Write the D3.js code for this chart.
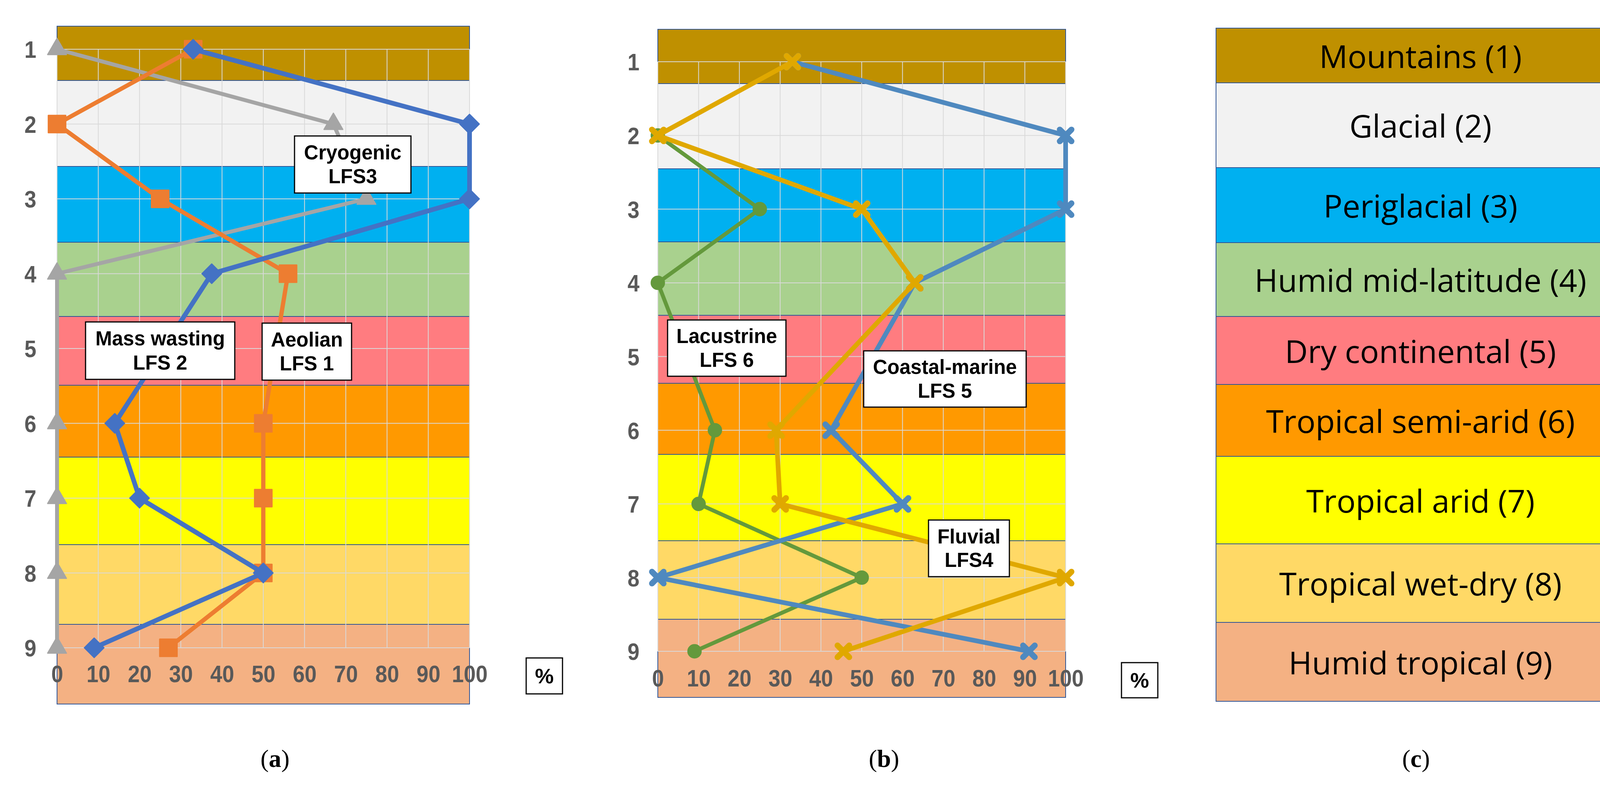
<!DOCTYPE html>
<html>
<head>
<meta charset="utf-8">
<script src="https://cdn.jsdelivr.net/npm/d3@7"></script>
<style>
  body { margin: 0; background: #fff; }
  svg { display: block; }
</style>
</head>
<body>
<script>
// ---- data (row 5 has no value, lines join across it) ----
var rows = [1, 2, 3, 4, 5, 6, 7, 8, 9];
var xTicks = [0, 10, 20, 30, 40, 50, 60, 70, 80, 90, 100];

var bandNames = ["Mountains (1)", "Glacial (2)", "Periglacial (3)", "Humid mid-latitude (4)",
  "Dry continental (5)", "Tropical semi-arid (6)", "Tropical arid (7)", "Tropical wet-dry (8)",
  "Humid tropical (9)"];

// panel (a)
var aeolianLFS1     = [33, 0, 25, 56, null, 50, 50, 50, 27];
var massWastingLFS2 = [33, 100, 100, 37.5, null, 14, 20, 50, 9];
var cryogenicLFS3   = [0, 67, 75, 0, null, 0, 0, 0, 0];
// panel (b)
var fluvialLFS4     = [33, 0, 50, 63, null, 29, 30, 100, 45.5];
var coastalLFS5     = [33, 100, 100, 63, null, 42.5, 60, 0, 91];
var lacustrineLFS6  = [null, 0, 25, 0, null, 14, 10, 50, 9];

var labelsA = [["Cryogenic", "LFS3"], ["Mass wasting", "LFS 2"], ["Aeolian", "LFS 1"]];
var labelsB = [["Lacustrine", "LFS 6"], ["Coastal-marine", "LFS 5"], ["Fluvial", "LFS4"]];

// ---- styles & layout ----
var bandColors = ["#BF9000", "#F2F2F2", "#00B0F0", "#A9D18E", "#FF7C80", "#FF9900", "#FFFF00", "#FFD966", "#F4B183"];

var W = 4235, H = 2022;
var sans = "'Liberation Sans', Arial, sans-serif";
var tickSquash = 0.9;

var layoutA = {
  left: 146, right: 1202, rowTop: 126, rowBottom: 1658,
  bands: [67, 206, 426, 620, 810, 986, 1170, 1394, 1598, 1802],
  xPad: 45, yPad: 53,
  pct: [1347, 1684, 93, 92], caption: [704, 1941, "a"],
  boxes: [[754, 348, 298, 146], [219, 824, 382, 147], [671, 827, 229, 146]]
};
var layoutB = {
  left: 1684, right: 2728, rowTop: 158, rowBottom: 1667,
  bands: [75, 214, 432, 619, 807, 981, 1163, 1384, 1585, 1785],
  xPad: 47, yPad: 47,
  pct: [2871, 1696, 93, 90], caption: [2263, 1941, "b"],
  boxes: [[1709, 819, 303, 144], [2211, 898, 416, 144], [2377, 1331, 207, 145]]
};
var layoutC = {
  left: 3113, right: 4160,
  bands: [72, 212, 429, 621, 810, 984, 1168, 1392, 1593, 1795],
  caption: [3625, 1941, "c"]
};

var svg = d3.select("body").append("svg")
  .attr("width", W)
  .attr("height", H);

svg.append("rect").attr("width", W).attr("height", H).attr("fill", "#fff");

var drawBands = function(g, lay) {
  g.selectAll("rect.band")
    .data(bandNames)
    .enter()
    .append("rect")
    .attr("class", "band")
    .attr("x", lay.left)
    .attr("y", function(d, i) { return lay.bands[i]; })
    .attr("width", lay.right - lay.left)
    .attr("height", function(d, i) { return lay.bands[i + 1] - lay.bands[i]; })
    .attr("fill", function(d, i) { return bandColors[i]; })
    .attr("stroke", "#2F5597")
    .attr("stroke-width", 2);
};

var caption = function(lay) {
  var t = svg.append("text")
    .attr("x", lay.caption[0])
    .attr("y", lay.caption[1])
    .attr("text-anchor", "middle")
    .attr("dominant-baseline", "central")
    .attr("font-family", "'Liberation Serif', 'DejaVu Serif', serif")
    .attr("font-size", 64)
    .attr("fill", "#000");
  t.append("tspan").text("(");
  t.append("tspan").attr("font-weight", "bold").text(lay.caption[2]);
  t.append("tspan").text(")");
};

var xShape = function(s) {
  return "M" + (-s) + "," + (-s) + "L" + s + "," + s + "M" + (-s) + "," + s + "L" + s + "," + (-s);
};

var drawSeries = function(g, xScale, yScale, values, color, lineW, marker, mSize) {
  var pts = [];
  values.forEach(function(v, i) {
    if (v !== null) pts.push({ row: rows[i], v: v });
  });

  var line = d3.line()
    .x(function(d) { return xScale(d.v); })
    .y(function(d) { return yScale(d.row); });

  g.append("path")
    .datum(pts)
    .attr("d", line)
    .attr("fill", "none")
    .attr("stroke", color)
    .attr("stroke-width", lineW)
    .attr("stroke-linejoin", "round");

  var m = g.append("g").selectAll("path")
    .data(pts)
    .enter()
    .append("path")
    .attr("transform", function(d) {
      var tr = "translate(" + xScale(d.v) + "," + yScale(d.row) + ")";
      if (marker === "diamond") tr += " rotate(45)";
      return tr;
    });

  if (marker === "x") {
    m.attr("d", xShape(mSize))
      .attr("fill", "none")
      .attr("stroke", color)
      .attr("stroke-width", 15)
      .attr("stroke-linecap", "round");
  } else {
    var type = { diamond: d3.symbolSquare, square: d3.symbolSquare, triangle: d3.symbolTriangle, circle: d3.symbolCircle }[marker];
    m.attr("d", d3.symbol().type(type).size(mSize)())
      .attr("fill", color)
      .attr("stroke", color)
      .attr("stroke-width", 3)
      .attr("stroke-linejoin", "round");
  }
};

var drawPanel = function(lay, series, labels) {
  var g = svg.append("g");
  drawBands(g, lay);

  var xScale = d3.scaleLinear().domain([0, 100]).range([lay.left, lay.right]);
  var yScale = d3.scaleLinear().domain([1, 9]).range([lay.rowTop, lay.rowBottom]);

  // grid
  g.append("g").selectAll("line")
    .data(xTicks)
    .enter()
    .append("line")
    .attr("x1", function(d) { return xScale(d); })
    .attr("x2", function(d) { return xScale(d); })
    .attr("y1", yScale(1))
    .attr("y2", yScale(9))
    .attr("stroke", "#D9D9D9")
    .attr("stroke-width", 2);
  g.append("g").selectAll("line")
    .data(rows)
    .enter()
    .append("line")
    .attr("x1", xScale(0))
    .attr("x2", xScale(100))
    .attr("y1", function(d) { return yScale(d); })
    .attr("y2", function(d) { return yScale(d); })
    .attr("stroke", "#D9D9D9")
    .attr("stroke-width", 2);

  // axes (labels only, slightly condensed like the original)
  var xAxis = d3.axisBottom(xScale).tickValues(xTicks).tickSize(0).tickPadding(lay.xPad);
  var yAxis = d3.axisLeft(yScale).tickValues(rows).tickSize(0).tickPadding(lay.yPad).tickFormat(d3.format("d"));

  var xa = g.append("g").attr("transform", "translate(0," + yScale(9) + ")").call(xAxis);
  var ya = g.append("g").attr("transform", "translate(" + xScale(0) + ",0)").call(yAxis);
  [xa, ya].forEach(function(a) {
    a.select(".domain").remove();
    a.selectAll("text")
      .attr("font-family", sans)
      .attr("font-weight", "bold")
      .attr("font-size", 61)
      .attr("fill", "#595959")
      .attr("transform", "scale(" + tickSquash + ",1)");
  });
  ya.selectAll("text")
    .attr("dy", "0.36em")
    .attr("x", -lay.yPad / tickSquash);

  series.forEach(function(s) {
    drawSeries(g, xScale, yScale, s.values, s.color, s.width, s.marker, s.size);
  });

  // label boxes
  labels.forEach(function(lb, i) {
    var b = lay.boxes[i];
    g.append("rect")
      .attr("x", b[0]).attr("y", b[1])
      .attr("width", b[2]).attr("height", b[3])
      .attr("fill", "#fff")
      .attr("stroke", "#000")
      .attr("stroke-width", 3);
    lb.forEach(function(txt, j) {
      g.append("text")
        .attr("x", b[0] + b[2] / 2)
        .attr("y", b[1] + b[3] * (j === 0 ? 0.29 : 0.71))
        .attr("text-anchor", "middle")
        .attr("dominant-baseline", "central")
        .attr("font-family", sans)
        .attr("font-weight", "bold")
        .attr("font-size", 51)
        .attr("fill", "#000")
        .text(txt);
    });
  });

  // % box
  g.append("rect")
    .attr("x", lay.pct[0]).attr("y", lay.pct[1])
    .attr("width", lay.pct[2]).attr("height", lay.pct[3])
    .attr("fill", "#fff")
    .attr("stroke", "#000")
    .attr("stroke-width", 3);
  g.append("text")
    .attr("x", lay.pct[0] + lay.pct[2] / 2)
    .attr("y", lay.pct[1] + lay.pct[3] / 2)
    .attr("text-anchor", "middle")
    .attr("dominant-baseline", "central")
    .attr("font-family", sans)
    .attr("font-weight", "bold")
    .attr("font-size", 54)
    .attr("fill", "#000")
    .text("%");

  caption(lay);
};

drawPanel(layoutA, [
  { values: cryogenicLFS3, color: "#A5A5A5", width: 10, marker: "triangle", size: 1000 },
  { values: aeolianLFS1, color: "#ED7D31", width: 11, marker: "square", size: 2000 },
  { values: massWastingLFS2, color: "#4472C4", width: 12, marker: "diamond", size: 1250 }
], labelsA);

drawPanel(layoutB, [
  { values: lacustrineLFS6, color: "#64993C", width: 10, marker: "circle", size: 900 },
  { values: coastalLFS5, color: "#4F89BF", width: 12, marker: "x", size: 15 },
  { values: fluvialLFS4, color: "#E0A800", width: 12, marker: "x", size: 15 }
], labelsB);

// panel (c): band key
var gc = svg.append("g");
drawBands(gc, layoutC);
gc.selectAll("text.key")
  .data(bandNames)
  .enter()
  .append("text")
  .attr("class", "key")
  .attr("x", (layoutC.left + layoutC.right) / 2)
  .attr("y", function(d, i) { return (layoutC.bands[i] + layoutC.bands[i + 1]) / 2; })
  .attr("text-anchor", "middle")
  .attr("dominant-baseline", "central")
  .attr("font-family", "'Open Sans', 'Noto Sans', sans-serif")
  .attr("font-size", 81)
  .attr("fill", "#000")
  .text(function(d) { return d; });
caption(layoutC);
</script>
</body>
</html>
